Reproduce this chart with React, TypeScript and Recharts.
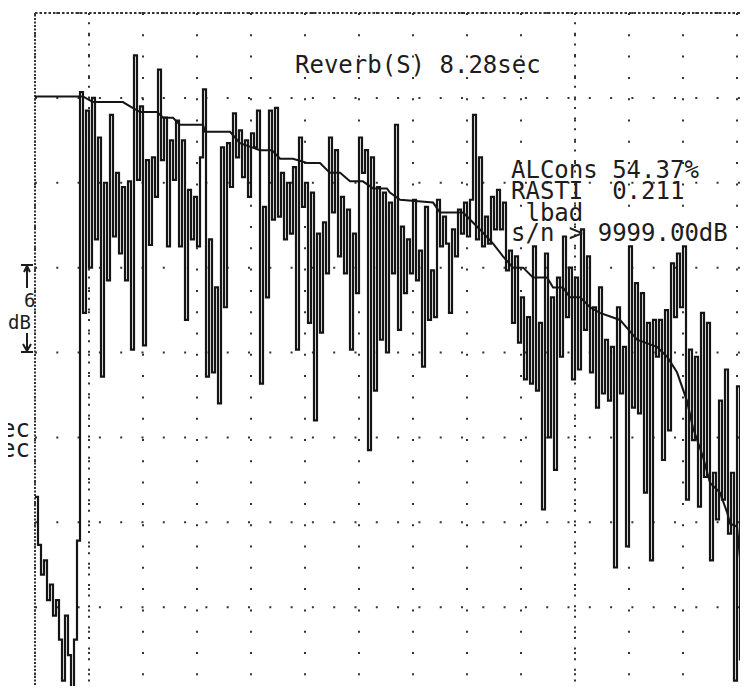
import { CartesianGrid, Line, LineChart, ReferenceLine, XAxis, YAxis } from 'recharts';

// time axis in samples (18 per division), level axis in dB (6 dB per division)
const TIME_TICKS = [0, 18, 36, 54, 72, 90, 108, 126, 144, 162, 180, 198, 216, 234, 252];
const LEVEL_TICKS = [-48, -42, -36, -30, -24, -18, -12, -6, 0];

// energy-time curve, one level per sample
const etcLevels = [
  -34.2, -37.6, -39.7, -38.7, -41.5, -40.4, -42.6, -41.5, -44.3, -47.2, -42.6, -45.4, -48.0, -44.3, -37.3,
  -5.6, -21.2, -6.9, -18.0, -6.0, -16.0, -8.8, -25.7, -12.0, -18.9,
  -7.2, -15.8, -11.3, -17.0, -12.3, -18.9, -11.9, -23.8, -3.0, -11.8,
  -6.6, -23.5, -10.4, -16.4, -10.2, -13.0, -4.0, -10.4, -7.4, -16.5,
  -9.0, -11.8, -7.6, -16.5, -9.0, -21.7, -12.5, -16.0, -13.0, -16.5,
  -10.2, -5.4, -25.7, -16.0, -25.4, -19.4, -27.6, -9.5, -20.8, -9.2,
  -12.3, -7.1, -10.2, -8.3, -11.6, -9.0, -13.0, -8.5, -9.5, -6.9,
  -26.2, -13.7, -20.1, -6.9, -14.6, -6.7, -14.4, -11.3, -16.0, -12.0,
  -15.6, -10.9, -23.8, -8.8, -13.7, -12.0, -21.9, -12.7, -28.8, -15.6,
  -22.6, -14.8, -18.4, -8.8, -14.1, -9.7, -17.2, -13.0, -18.4, -13.9,
  -23.8, -15.6, -19.8, -8.8, -11.3, -9.7, -30.9, -10.2, -26.7, -12.3,
  -23.1, -12.7, -24.0, -13.4, -18.4, -7.9, -22.4, -15.1, -19.8, -16.0,
  -18.4, -13.2, -18.9, -16.8, -25.0, -13.7, -21.7, -18.2, -21.5, -13.2,
  -16.5, -14.4, -16.3, -21.2, -15.3, -17.2, -13.9, -15.6, -13.4, -15.8,
  -13.2, -7.2, -16.0, -10.2, -16.5, -14.4, -16.3, -13.0, -15.3, -12.5,
  -15.3, -13.4, -18.2, -16.8, -21.9, -17.2, -23.3, -20.1, -25.9, -21.5,
  -26.2, -16.5, -26.7, -21.9, -35.1, -17.0, -30.0, -20.1, -32.3, -18.7,
  -24.3, -15.8, -21.5, -18.0, -25.9, -18.7, -25.2, -15.3, -22.4, -17.2,
  -25.4, -20.8, -27.9, -19.4, -26.9, -23.1, -27.4, -23.6, -39.2, -20.8,
  -26.9, -23.6, -37.7, -16.5, -27.9, -19.1, -28.3, -19.8, -33.9, -21.9,
  -38.7, -21.7, -24.3, -21.7, -31.6, -21.0, -29.5, -17.7, -21.5, -17.0,
  -20.8, -16.5, -34.4, -23.8, -30.2, -24.3, -34.9, -21.2, -32.8, -21.9,
  -38.7, -32.5, -35.8, -27.4, -34.4, -25.2, -36.8, -32.5, -47.2, -26.4,
  -45.7, -27.4, -41.3,
];

// backward-integrated decay
const decayTimes = [
  0, 16, 19.3, 29.3, 31.7, 35, 40.7, 42.7, 46, 48.3, 56, 56.7, 65, 66.7, 68.3, 75, 79, 81.7, 86, 90.7,
  95, 98.3, 101.7, 105, 109.3, 112.7, 117.3, 118.3, 121.7, 132.7, 135, 142.7, 145, 148.3, 152.7, 156,
  159.3, 162.7, 166, 170.7, 172.7, 176, 178.3, 181.7, 185, 188.3, 195, 200.7, 207.3, 210.7, 214, 217.3,
  219.3, 222.7, 225, 228.3, 230.7, 231.7, 234, 236, 237.7,
];
const decayLevels = [
  -5.9, -5.9, -6.3, -6.3, -6.6, -7.0, -7.0, -7.4, -7.4, -7.9, -7.9, -8.4, -8.4, -8.8, -9.2, -9.7, -9.7,
  -10.3, -10.3, -10.6, -10.6, -11.3, -11.3, -11.9, -11.9, -12.4, -12.4, -12.7, -13.2, -13.4, -14.1, -14.1,
  -14.6, -15.3, -16.3, -17.2, -18.0, -18.0, -18.7, -18.7, -19.4, -19.4, -20.1, -20.1, -20.8, -21.2, -21.7,
  -23.1, -23.6, -24.3, -25.4, -27.4, -29.3, -31.4, -33.2, -33.9, -35.3, -36.1, -36.3, -40.8, -41.5,
];

const readouts = ['ALCons 54.37%', 'RASTI  0.211', ' lbad', 's/n > 9999.00dB'];
const readoutBaselines = [178, 199, 221, 241];

const INK = '#151515';
const MONO = '"DejaVu Sans Mono", monospace';

const etcRows = etcLevels.map((db, i) => ({ t: i, db }));
const decayRows = decayTimes.map((t, i) => ({ t, db: decayLevels[i] }));

export default function App() {
  return (
    <div style={{ position: 'relative', width: 748, height: 694, margin: -8, overflow: 'hidden', background: '#fff' }}>
      <LineChart width={800} height={694} margin={{ top: 13, right: 9, bottom: 2, left: 35 }}>
        <XAxis type="number" dataKey="t" domain={[0, 252]} ticks={TIME_TICKS} hide allowDuplicatedCategory={false} />
        <YAxis type="number" domain={[-48, 0]} ticks={LEVEL_TICKS} hide />
        <CartesianGrid stroke="#333" strokeWidth={2} strokeDasharray="2 19.3" />
        <ReferenceLine x={18} stroke="#333" strokeWidth={2} strokeDasharray="2 8.6" />
        <ReferenceLine x={180} stroke="#333" strokeWidth={2} strokeDasharray="2 8.6" />
        <ReferenceLine x={0} stroke="#333" strokeWidth={2} strokeDasharray="2 1.5" />
        <ReferenceLine y={0} stroke="#333" strokeWidth={2} strokeDasharray="2.5 2" />
        <ReferenceLine y={-48} stroke="#333" strokeWidth={2} strokeDasharray="2.5 2" />
        <Line data={etcRows} dataKey="db" type="stepAfter" stroke={INK} strokeWidth={2.2} dot={false} isAnimationActive={false} />
        <Line data={decayRows} dataKey="db" type="linear" stroke={INK} strokeWidth={2} dot={false} isAnimationActive={false} />
      </LineChart>
      <svg width={748} height={694} style={{ position: 'absolute', left: 0, top: 0 }}>
        <g fontFamily={MONO} fill="#1d1d1d">
          <text x={295} y={73} fontSize={24}>Reverb(S) 8.28sec</text>
          {readouts.map((s, i) => (
            <text key={i} x={511} y={readoutBaselines[i]} fontSize={24} style={{ whiteSpace: 'pre' }}>
              {s}
            </text>
          ))}
          <text x={-13.5} y={437} fontSize={24}>sec</text>
          <text x={-13.5} y={457} fontSize={24}>sec</text>
          <text x={24} y={307} fontSize={19}>6</text>
          <text x={8} y={329} fontSize={19}>dB</text>
        </g>
        <g stroke="#1d1d1d" strokeWidth={2} fill="none">
          <path d="M21 265 H33 M27 265 V288 M24 272 L27 266 L30 272" />
          <path d="M27 333 V351 M23 344 L27 351 L31 344 M21 352 H33" />
        </g>
      </svg>
    </div>
  );
}
